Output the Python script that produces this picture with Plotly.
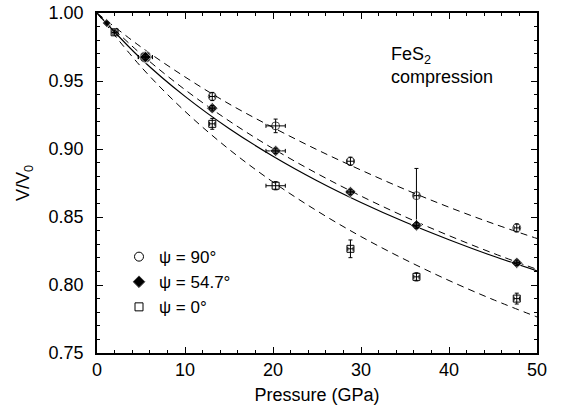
import plotly.graph_objects as go

# ---- data ----
P90 = [2.0, 5.5, 13.1, 20.3, 28.8, 36.3, 47.7]
V90 = [0.9858, 0.9676, 0.9386, 0.9170, 0.8910, 0.8657, 0.8420]
V90_ex = [0.0, 0.8, 0.3, 1.1, 0.4, 0.3, 0.3]
V90_ey_plus = [0.0, 0.002, 0.003, 0.005, 0.003, 0.020, 0.003]
V90_ey_minus = [0.0, 0.002, 0.003, 0.005, 0.003, 0.024, 0.003]

P55 = [1.1, 5.5, 13.1, 20.3, 28.8, 36.3, 47.7]
V55 = [0.9926, 0.9676, 0.9300, 0.8986, 0.8684, 0.8438, 0.8163]
V55_ex = [0.0, 0.8, 0.3, 1.1, 0.4, 0.3, 0.3]
V55_ey = [0.0, 0.002, 0.002, 0.002, 0.002, 0.002, 0.002]

P0 = [2.0, 5.5, 13.1, 20.3, 28.8, 36.3, 47.7]
V0 = [0.9858, 0.9676, 0.9185, 0.8730, 0.8266, 0.8060, 0.7900]
V0_ex = [0.0, 0.8, 0.3, 1.1, 0.3, 0.3, 0.3]
V0_ey = [0.0, 0.002, 0.004, 0.003, 0.0065, 0.003, 0.004]

# fitted curves
P_curve = [0, 5, 10, 15, 20, 25, 30, 35, 40, 45, 50]
fit90 = [1.0, 0.9750, 0.9530, 0.9332, 0.9158, 0.8995, 0.8845, 0.8703, 0.8572, 0.8452, 0.8342]
fit55 = [1.0, 0.9698, 0.9436, 0.9207, 0.9003, 0.8820, 0.8654, 0.8502, 0.8363, 0.8234, 0.8115]
fit0 = [1.0, 0.9605, 0.9277, 0.8998, 0.8757, 0.8545, 0.8356, 0.8187, 0.8033, 0.7893, 0.7765]
fit_solid = [1.0, 0.9664, 0.9387, 0.9151, 0.8947, 0.8767, 0.8607, 0.8463, 0.8333, 0.8213, 0.8104]

legend_names = ["\u03c8 = 90\u00b0", "\u03c8 = 54.7\u00b0", "\u03c8 = 0\u00b0"]

FONT = "Liberation Sans, Arial, Helvetica, sans-serif"
fig = go.Figure()

dash = "7px,5px"
for fit in (fit90, fit55, fit0):
    fig.add_trace(go.Scatter(x=P_curve, y=fit, mode="lines", line=dict(color="black", width=1, dash=dash, shape="spline"),
                             showlegend=False, hoverinfo="skip"))
fig.add_trace(go.Scatter(x=P_curve, y=fit_solid, mode="lines", line=dict(color="black", width=1.2, shape="spline"),
                         showlegend=False, hoverinfo="skip"))

eb = dict(color="black", thickness=1, width=2)
fig.add_trace(go.Scatter(x=P0, y=V0, mode="markers",
                         marker=dict(symbol="square-open", size=7, color="black", line=dict(width=1)),
                         error_x=dict(type="data", array=V0_ex, **eb),
                         error_y=dict(type="data", array=V0_ey, **eb), showlegend=False))
sym90 = ["circle-open", "circle", "circle-open", "circle-open", "circle-open", "circle-open", "circle-open"]
size90 = [6, 12, 8, 8, 8, 8, 8]
fig.add_trace(go.Scatter(x=P90, y=V90, mode="markers",
                         marker=dict(symbol=sym90, size=size90, color="black", line=dict(width=1)),
                         error_x=dict(type="data", array=V90_ex, **eb),
                         error_y=dict(type="data", array=V90_ey_plus, arrayminus=V90_ey_minus, symmetric=False, **eb),
                         showlegend=False))
size55 = [7, 9, 9, 9, 9, 9, 9]
fig.add_trace(go.Scatter(x=P55, y=V55, mode="markers",
                         marker=dict(symbol="diamond", size=size55, color="black"),
                         error_x=dict(type="data", array=V55_ex, **eb),
                         error_y=dict(type="data", array=V55_ey, **eb), showlegend=False))

# legend-only entries
for name, sym, sz in zip(legend_names, ["circle-open", "diamond", "square-open"], [9, 9, 8]):
    fig.add_trace(go.Scatter(x=[None], y=[None], mode="markers", name=name,
                             marker=dict(symbol=sym, size=sz, color="black", line=dict(width=1))))

axis_common = dict(showline=True, linecolor="black", linewidth=1.5, mirror="ticks", ticks="inside",
                   ticklen=6, tickwidth=1, tickcolor="black", showgrid=False, zeroline=False,
                   tickfont=dict(family=FONT, size=18, color="black"))
fig.update_xaxes(range=[0, 50], dtick=10, tick0=0,
                 minor=dict(dtick=2, ticks="inside", ticklen=3, tickcolor="black", showgrid=False),
                 title=dict(text="Pressure (GPa)", font=dict(family=FONT, size=18, color="black"), standoff=9),
                 ticklabelstandoff=0, **axis_common)
fig.update_yaxes(range=[0.75, 1.0], dtick=0.05, tick0=0.75, tickformat=".2f",
                 minor=dict(dtick=0.01, ticks="inside", ticklen=3, tickcolor="black", showgrid=False),
                 title=dict(text="V/V<sub>0</sub>", font=dict(family=FONT, size=18, color="black"), standoff=14),
                 ticklabelstandoff=8, **axis_common)

fig.add_annotation(xref="paper", yref="paper", x=0.664, y=0.915, xanchor="left", yanchor="top",
                   text="FeS<sub>2</sub><br>compression", showarrow=False, align="left",
                   font=dict(family=FONT, size=18, color="black"))

fig.update_layout(width=562, height=408, margin=dict(l=97, r=25, t=13, b=55, autoexpand=False),
                  paper_bgcolor="white", plot_bgcolor="white",
                  legend=dict(x=0.05, y=0.335, xanchor="left", yanchor="top", bgcolor="rgba(0,0,0,0)",
                              font=dict(family=FONT, size=17, color="black"), tracegroupgap=0,
                              itemwidth=30))
fig.write_html("out.html", config={"displayModeBar": False},
               post_script="document.body.style.margin='0px';document.body.style.overflow='hidden';")
